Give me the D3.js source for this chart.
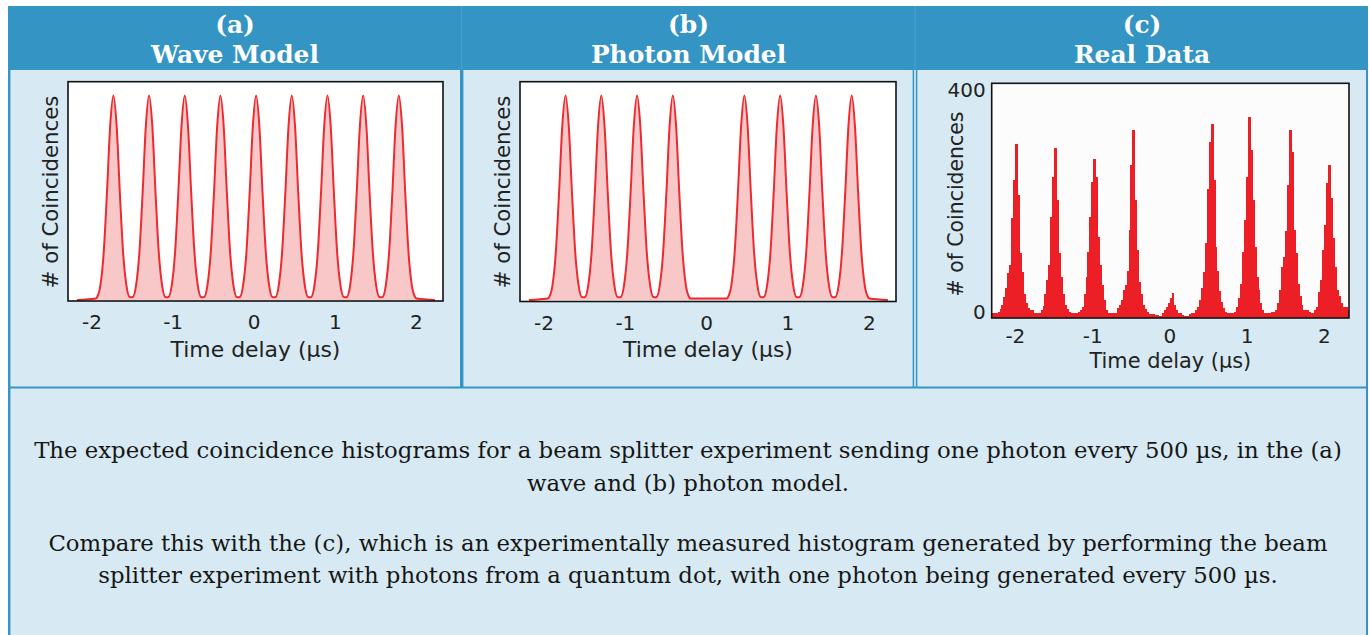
<!DOCTYPE html>
<html><head><meta charset="utf-8">
<script src="https://cdn.jsdelivr.net/npm/d3@7"></script>
<style>html,body{margin:0;padding:0;background:#fff;overflow:hidden}</style>
</head><body>
<svg id="chart" width="1369" height="635"></svg>
<script>
// ---------------- DATA ----------------
const panelLetters = ["(a)", "(b)", "(c)"];
const panelNames = ["Wave Model", "Photon Model", "Real Data"];
const xTicks = [-2, -1, 0, 1, 2];
const yTicksReal = [0, 400];
const xTitle = "Time delay (µs)";
const yTitle = "# of Coincidences";

// peak centres (µs)
const waveCenters = [-1.73, -1.29, -0.85, -0.41, 0.03, 0.47, 0.91, 1.35, 1.79];
const photonCenters = [-1.73, -1.29, -0.85, -0.41, 0.47, 0.91, 1.35, 1.79];
// shape of one model peak: offset from centre (µs) and relative height
const profileOffsets = [-0.22, -0.2, -0.16, -0.12, -0.08, -0.04, 0, 0.04, 0.08, 0.12, 0.16, 0.2, 0.22];
const profileHeights = [0.007, 0.015, 0.073, 0.23, 0.52, 0.85, 1, 0.85, 0.52, 0.23, 0.073, 0.015, 0.007];
const curveStart = -2.18, curveEnd = 2.235;

// measured histogram (c)
const realBinStart = -2.30;
const realBinWidth = 0.0253;
const realCounts = [
  7, 8,
  8, 9, 14, 21, 35, 50, 76, 90, 170, 235, 296, 210, 110, 78, 40, 25, 16, 13, 12, 8,
  7, 7, 7, 12, 20, 40, 64, 90, 172, 240, 289, 200, 110, 70, 40, 22, 15, 10, 8, 8,
  8, 8, 9, 12, 18, 40, 70, 112, 172, 232, 271, 240, 138, 90, 55, 30, 12, 8, 8, 8,
  8, 8, 16, 21, 30, 47, 55, 80, 150, 260, 320, 200, 115, 61, 40, 22, 14, 9, 6, 6,
  6, 5, 4, 3, 2, 8, 13, 18, 24, 33, 41, 22, 13, 8, 7, 5, 2, 2, 2, 6,
  8, 8, 13, 18, 30, 50, 78, 127, 220, 300, 330, 235, 120, 80, 45, 27, 16, 9, 8, 8,
  8, 8, 10, 18, 33, 58, 112, 167, 240, 342, 286, 200, 121, 70, 47, 24, 12, 8, 7, 7,
  7, 9, 9, 13, 24, 47, 87, 104, 147, 226, 320, 283, 150, 110, 58, 36, 21, 13, 12, 12,
  9, 7, 7, 13, 18, 44, 64, 115, 158, 230, 260, 204, 135, 87, 47, 36, 24, 18, 13, 18,
  13
];

const captionLines = [
  "The expected coincidence histograms for a beam splitter experiment sending one photon every 500 µs, in the (a)",
  "wave and (b) photon model.",
  "Compare this with the (c), which is an experimentally measured histogram generated by performing the beam",
  "splitter experiment with photons from a quantum dot, with one photon being generated every 500 µs."
];

// ---------------- DRAW ----------------
const svg = d3.select("#chart");
const BLUE = "#3494c4", LIGHT = "#d7eaf3";
const SANS = "'DejaVu Sans', Verdana, sans-serif";
const SERIF = "'DejaVu Serif', Georgia, serif";

function fitSize(textSel, target) {
  const base = 20;
  textSel.attr("font-size", base);
  const w = textSel.node().getComputedTextLength();
  const s = base * target / w;
  textSel.attr("font-size", s);
  return s;
}

// table frame
svg.append("rect").attr("x", 8).attr("y", 6).attr("width", 1360).attr("height", 64).attr("fill", BLUE);
svg.append("rect").attr("x", 8).attr("y", 70).attr("width", 1360).attr("height", 565).attr("fill", LIGHT);
const line = (x1, y1, x2, y2, w, c) => svg.append("line").attr("x1", x1).attr("y1", y1).attr("x2", x2).attr("y2", y2)
  .attr("stroke", c || BLUE).attr("stroke-width", w);
line(9.2, 70, 9.2, 635, 2.4);
line(1367, 70, 1367, 635, 2);
line(8, 387.5, 1368, 387.5, 2);
line(461.7, 70, 461.7, 387, 3.4);
line(913.4, 70, 913.4, 387, 1.5);
line(916.6, 70, 916.6, 387, 1.5);
line(461.7, 6, 461.7, 70, 1, "#4ea3cf");
line(915, 6, 915, 70, 1, "#4ea3cf");

// headers
const headerCenters = [235, 688.5, 1142];
const probe = svg.append("text").attr("font-family", SERIF).attr("font-weight", "bold").text(panelNames[0]);
const hSize = fitSize(probe, 168);
probe.remove();
panelNames.forEach((n, i) => {
  svg.append("text").attr("x", headerCenters[i]).attr("y", 33).attr("text-anchor", "middle")
    .attr("font-family", SERIF).attr("font-weight", "bold").attr("font-size", hSize).attr("fill", "#fff").text(panelLetters[i]);
  svg.append("text").attr("x", headerCenters[i]).attr("y", 63).attr("text-anchor", "middle")
    .attr("font-family", SERIF).attr("font-weight", "bold").attr("font-size", hSize).attr("fill", "#fff").text(n);
});

// model panels
const modelPanels = [
  {centers: waveCenters, box: {x0: 68, x1: 443, y0: 81.7, y1: 301}, yTitleX: 58, id: "a"},
  {centers: photonCenters, box: {x0: 520, x1: 896, y0: 81.7, y1: 301.5}, yTitleX: 510, id: "b"}
];

function buildCurve(centers) {
  const m = new Map();
  const add = (x, y) => { const k = Math.round(x * 1000); m.set(k, (m.get(k) || 0) + y); };
  add(curveStart, 0); add(curveEnd, 0);
  centers.forEach(c => profileOffsets.forEach((o, i) => add(c + o, profileHeights[i])));
  return Array.from(m, ([k, v]) => [k / 1000, v]).sort((a, b) => a[0] - b[0]);
}

const defs = svg.append("defs");

function axisTitles(box, yTitleX, yMid, titleBase, size) {
  const xt = svg.append("text").attr("x", (box.x0 + box.x1) / 2).attr("y", titleBase).attr("text-anchor", "middle")
    .attr("font-family", SANS).attr("fill", "#222").text(xTitle);
  fitSize(xt, size.x);
  const yt = svg.append("text").attr("transform", `translate(${yTitleX},${yMid}) rotate(-90)`).attr("text-anchor", "middle")
    .attr("font-family", SANS).attr("fill", "#222").text(yTitle);
  fitSize(yt, size.y);
}

modelPanels.forEach(p => {
  const b = p.box;
  const x = d3.scaleLinear().domain([-2.29, 2.335]).range([b.x0, b.x1]);
  const y = d3.scaleLinear().domain([0, 1]).range([300, 95.5]);
  svg.append("rect").attr("x", b.x0).attr("y", b.y0).attr("width", b.x1 - b.x0).attr("height", b.y1 - b.y0).attr("fill", "#fff");
  defs.append("clipPath").attr("id", "clip" + p.id).append("rect")
    .attr("x", b.x0).attr("y", b.y0).attr("width", b.x1 - b.x0).attr("height", b.y1 - b.y0);
  const pts = buildCurve(p.centers);
  const g = svg.append("g").attr("clip-path", `url(#clip${p.id})`);
  g.append("path").datum(pts).attr("fill", "#f8c8c9")
    .attr("d", d3.area().x(d => x(d[0])).y0(y(0)).y1(d => y(d[1])).curve(d3.curveMonotoneX));
  g.append("path").datum(pts).attr("fill", "none").attr("stroke", "#ee2a2f").attr("stroke-width", 2)
    .attr("d", d3.line().x(d => x(d[0])).y(d => y(d[1])).curve(d3.curveMonotoneX));
  svg.append("rect").attr("x", b.x0).attr("y", b.y0).attr("width", b.x1 - b.x0).attr("height", b.y1 - b.y0)
    .attr("fill", "none").attr("stroke", "#111").attr("stroke-width", 1.6);
  const ax = svg.append("g").attr("transform", `translate(0,${b.y1})`)
    .call(d3.axisBottom(x).tickValues(xTicks).tickSize(0).tickPadding(14).tickFormat(d => String(d)));
  ax.select(".domain").remove();
  ax.selectAll("text").attr("font-family", SANS).attr("font-size", 20).attr("fill", "#222");
  axisTitles(b, p.yTitleX, 192, 357, {x: 170, y: 193});
});

// real data panel
{
  const b = {x0: 991.7, x1: 1349, y0: 83.3, y1: 318};
  const x = d3.scaleLinear().domain([-2.30, 2.325]).range([b.x0, b.x1]);
  const y = d3.scaleLinear().domain([0, 400]).range([317.5, 83.3]);
  svg.append("rect").attr("x", b.x0).attr("y", b.y0).attr("width", b.x1 - b.x0).attr("height", b.y1 - b.y0).attr("fill", "#fcfcfc");
  defs.append("clipPath").attr("id", "clipc").append("rect")
    .attr("x", b.x0).attr("y", b.y0).attr("width", b.x1 - b.x0).attr("height", b.y1 - b.y0);
  const g = svg.append("g").attr("clip-path", "url(#clipc)").attr("shape-rendering", "crispEdges");
  g.selectAll("rect").data(realCounts).join("rect")
    .attr("x", (d, i) => x(realBinStart + i * realBinWidth))
    .attr("width", (d, i) => x(realBinStart + (i + 1) * realBinWidth) - x(realBinStart + i * realBinWidth) + 1)
    .attr("y", d => y(d))
    .attr("height", d => b.y1 - y(d))
    .attr("fill", "#ec1f26");
  svg.append("rect").attr("x", b.x0).attr("y", b.y0).attr("width", b.x1 - b.x0).attr("height", b.y1 - b.y0)
    .attr("fill", "none").attr("stroke", "#111").attr("stroke-width", 1.6);
  const ax = svg.append("g").attr("transform", `translate(0,${b.y1})`)
    .call(d3.axisBottom(x).tickValues(xTicks).tickSize(0).tickPadding(11).tickFormat(d => String(d)));
  ax.select(".domain").remove();
  ax.selectAll("text").attr("font-family", SANS).attr("font-size", 20).attr("fill", "#222");
  const ay = svg.append("g").attr("transform", `translate(${b.x0},0)`)
    .call(d3.axisLeft(y).tickValues(yTicksReal).tickSize(0).tickPadding(6).tickFormat(d => String(d)));
  ay.select(".domain").remove();
  ay.selectAll("text").attr("font-family", SANS).attr("font-size", 20).attr("fill", "#222")
    .attr("transform", d => `translate(0,${d === 0 ? -5.8 : 6.7})`);
  axisTitles(b, 963, 204, 368, {x: 162, y: 185});
}

// caption
const capBase = [458, 491, 551, 583];
const c0 = svg.append("text").attr("font-family", SERIF).text(captionLines[0]);
const capSize = fitSize(c0, 1309);
c0.remove();
captionLines.forEach((t, i) => {
  svg.append("text").attr("x", 688).attr("y", capBase[i]).attr("text-anchor", "middle")
    .attr("font-family", SERIF).attr("font-size", capSize).attr("fill", "#161616").text(t);
});
</script>
</body></html>
